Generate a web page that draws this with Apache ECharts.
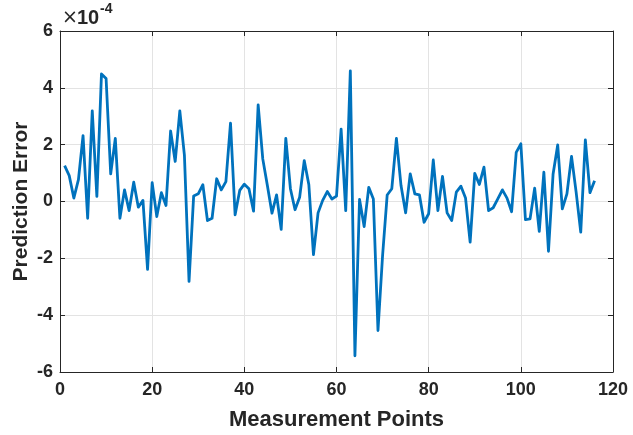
<!DOCTYPE html>
<html>
<head>
<meta charset="utf-8">
<script src="https://cdn.jsdelivr.net/npm/echarts@6/dist/echarts.min.js"></script>
<style>
  html, body { margin: 0; padding: 0; background: #fff; }
  #chart { width: 633px; height: 435px; }
</style>
</head>
<body>
<div id="chart"></div>
<script>
// prediction error, in units of 1e-4 (axis shows x10^-4)
var errVals = [
    1.26, 0.91, 0.12, 0.77, 2.32, -0.59, 3.19, 0.18, 4.49, 4.33,
    0.97, 2.22, -0.59, 0.41, -0.32, 0.68, -0.20, 0.04, -2.39, 0.66,
    -0.53, 0.31, -0.14, 2.48, 1.41, 3.19, 1.62, -2.81, 0.19, 0.27,
    0.59, -0.67, -0.59, 0.80, 0.41, 0.70, 2.76, -0.47, 0.39, 0.61,
    0.45, -0.34, 3.40, 1.50, 0.56, -0.41, 0.23, -0.98, 2.22, 0.45,
    -0.29, 0.15, 1.44, 0.59, -1.87, -0.40, 0.04, 0.35, 0.09, 0.19,
    2.55, -0.32, 4.60, -5.43, 0.07, -0.88, 0.50, 0.09, -4.54, -1.90,
    0.23, 0.45, 2.22, 0.56, -0.40, 0.97, 0.27, 0.23, -0.73, -0.43,
    1.46, -0.32, 0.88, -0.40, -0.67, 0.33, 0.54, 0.12, -1.43, 0.99,
    0.60, 1.21, -0.32, -0.22, 0.09, 0.41, 0.12, -0.36, 1.73, 2.03,
    -0.64, -0.61, 0.47, -1.05, 1.03, -1.75, 0.97, 1.99, -0.26, 0.27,
    1.59, 0.33, -1.08, 2.17, 0.31, 0.73
];
var xTicks = [0, 20, 40, 60, 80, 100, 120];
var yTicks = [-6, -4, -2, 0, 2, 4, 6];

var pts = [];
for (var i = 0; i < errVals.length; i++) {
    pts.push([i + 1, errVals[i]]);
}

var myChart = echarts.init(document.getElementById('chart'));
var font = 'Liberation Sans';
var axisCol = '#262626';

// top / right axes only draw the box and the inner ticks
var boxAxis = {
    axisLine: {show: true, onZero: false, lineStyle: {color: axisCol, width: 1}},
    axisTick: {show: true, inside: true, length: 5, lineStyle: {color: axisCol}},
    axisLabel: {show: false},
    splitLine: {show: false}
};

var option = {
    animation: false,
    grid: {left: 60, right: 20, top: 31, bottom: 63, outerBoundsMode: 'none', containLabel: false},
    xAxis: [
        {
            type: 'value',
            min: xTicks[0], max: xTicks[xTicks.length - 1], interval: 20,
            axisLine: {show: true, onZero: false, lineStyle: {color: axisCol, width: 1}},
            axisTick: {show: true, inside: true, length: 5, lineStyle: {color: axisCol}},
            axisLabel: {color: axisCol, fontFamily: font, fontWeight: 'bold', fontSize: 18, margin: 9},
            splitLine: {show: true, lineStyle: {color: '#e3e3e3', width: 1}},
            name: 'Measurement Points',
            nameLocation: 'middle',
            nameGap: 37,
            nameMoveOverlap: false,
            nameTextStyle: {color: axisCol, fontFamily: font, fontWeight: 'bold', fontSize: 22}
        },
        Object.assign({type: 'value', position: 'top', min: xTicks[0], max: xTicks[xTicks.length - 1], interval: 20}, boxAxis)
    ],
    yAxis: [
        {
            type: 'value',
            min: yTicks[0], max: yTicks[yTicks.length - 1], interval: 2,
            axisLine: {show: true, onZero: false, lineStyle: {color: axisCol, width: 1}},
            axisTick: {show: true, inside: true, length: 5, lineStyle: {color: axisCol}},
            axisLabel: {color: axisCol, fontFamily: font, fontWeight: 'bold', fontSize: 18, margin: 7},
            splitLine: {show: true, lineStyle: {color: '#e3e3e3', width: 1}},
            name: 'Prediction Error',
            nameLocation: 'middle',
            nameGap: 28,
            nameMoveOverlap: false,
            nameTextStyle: {color: axisCol, fontFamily: font, fontWeight: 'bold', fontSize: 21}
        },
        Object.assign({type: 'value', position: 'right', min: yTicks[0], max: yTicks[yTicks.length - 1], interval: 2}, boxAxis)
    ],
    graphic: [
        {
            type: 'text',
            left: 62,
            top: 9,
            style: {text: '\u00d7', font: '19px "DejaVu Sans"', fill: axisCol}
        },
        {
            type: 'text',
            left: 77,
            top: 8,
            style: {text: '10', font: 'bold 20px "Liberation Sans"', fill: axisCol}
        },
        {
            type: 'text',
            left: 100,
            top: 2,
            style: {text: '-4', font: 'bold 14px "Liberation Sans"', fill: axisCol}
        }
    ],
    series: [
        {
            name: 'error',
            type: 'line',
            xAxisIndex: 0,
            yAxisIndex: 0,
            data: pts,
            showSymbol: false,
            symbol: 'none',
            lineStyle: {color: '#0072BD', width: 2.8, join: 'round'}
        }
    ]
};

myChart.setOption(option);
</script>
</body>
</html>
